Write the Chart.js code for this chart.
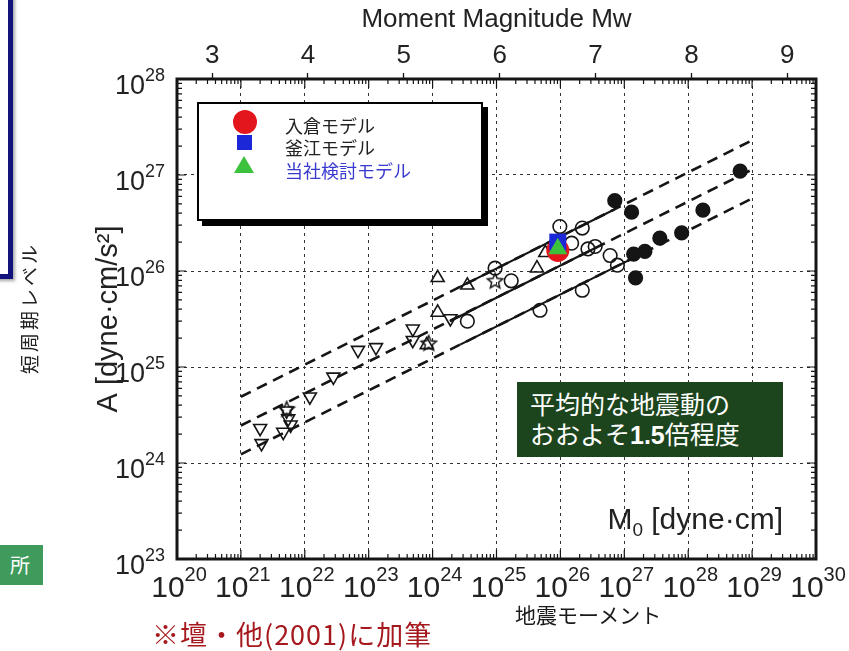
<!DOCTYPE html>
<html>
<head>
<meta charset="utf-8">
<script src="https://cdn.jsdelivr.net/npm/chart.js@4.4.0/dist/chart.umd.min.js"></script>
<style>
  body { margin: 0; background: #fff; }
  #wrap { position: relative; width: 849px; height: 651px; overflow: hidden; font-family: "Liberation Sans", Arial, sans-serif; }
  #c { position: absolute; left: 0; top: 0; }
  .abs { position: absolute; white-space: nowrap; }
  .jp { font-family: "Noto Sans CJK JP", sans-serif; }
</style>
</head>
<body>
<div id="wrap">
  <canvas id="c" width="849" height="651"></canvas>

  <div class="abs" style="left:-205px;top:-10px;width:208px;height:279px;border:5px solid #13137c;background:#fff;box-shadow:2px 2px 3px rgba(0,0,0,.35);"></div>
  <div class="abs jp" style="left:28px;top:308px;transform:translate(-50%,-50%) rotate(-90deg);font-size:19px;letter-spacing:3px;color:#222;line-height:1;">短周期レベル</div>
  <div class="abs jp" style="left:0;top:545px;width:43px;height:40px;background:#3e9b5c;color:#fff;font-size:20px;line-height:40px;text-indent:10px;">所</div>

  <div class="abs" id="legend" style="left:197px;top:102px;width:282px;height:115px;border:2px solid #000;box-shadow:5px 5px 0 #000;background:#fff;">
    <div class="abs" style="left:34px;top:6px;width:24px;height:24px;border-radius:50%;background:#e3161b;"></div>
    <div class="abs" style="left:38px;top:31px;width:15px;height:15px;background:#1c27d8;"></div>
    <div class="abs" style="left:35px;top:52px;width:0;height:0;border-left:10px solid transparent;border-right:10px solid transparent;border-bottom:17px solid #3cc13c;"></div>
    <div class="abs jp" style="left:86px;top:10px;font-size:18px;line-height:22px;color:#222;">入倉モデル</div>
    <div class="abs jp" style="left:86px;top:32px;font-size:18px;line-height:22px;color:#222;">釜江モデル</div>
    <div class="abs jp" style="left:86px;top:55px;font-size:18px;line-height:22px;color:#3a3ad0;">当社検討モデル</div>
  </div>

  <div class="abs jp" style="left:517px;top:382px;width:253px;height:69px;padding:6px 0 0 13px;background:#1d451d;color:#fff;font-size:25px;line-height:30px;">平均的な地震動の<br>おおよそ<b style="font-family:'Liberation Sans',Arial,sans-serif;">1.5</b>倍程度</div>
  <div class="abs" style="right:66px;top:501px;font-size:30px;line-height:36px;color:#222;">M<sub style="font-size:19px;">0</sub> [dyne·cm]</div>

  <div class="abs jp" style="left:515px;top:601px;font-size:21px;line-height:26px;color:#1a1a1a;">地震モーメント</div>
  <div class="abs jp" style="left:152px;top:618px;font-size:27px;line-height:32px;letter-spacing:1px;color:#a5181d;">※壇・他(2001)に加筆</div>
</div>

<script>
// axis decades and Mw ticks
const xDecades = [1e20, 1e21, 1e22, 1e23, 1e24, 1e25, 1e26, 1e27, 1e28, 1e29, 1e30];
const yDecades = [1e23, 1e24, 1e25, 1e26, 1e27, 1e28];
const mwTicks = [3, 4, 5, 6, 7, 8, 9];

// M0 [dyne-cm] vs A [dyne-cm/s^2]
const downTriM0 = [2.0e21, 2.1e21, 4.6e21, 5.2e21, 5.5e21, 6.0e21, 1.2e22, 2.8e22, 6.8e22, 1.3e23, 4.9e23, 4.9e23, 1.9e24];
const downTriA  = [2.3e24, 1.6e24, 2.1e24, 3.5e24, 2.9e24, 2.5e24, 4.9e24, 7.9e24, 1.5e25, 1.6e25, 2.5e25, 1.9e25, 3.2e25];
const upTriM0 = [8.1e23, 1.2e24, 1.2e24, 3.5e24, 4.3e25, 5.8e25];
const upTriA  = [1.7e25, 3.7e25, 8.5e25, 7.1e25, 1.07e26, 1.55e26];
const starM0 = [8.7e23, 9.5e24, 5.2e21];
const starA  = [1.75e25, 7.8e25, 3.6e24];
const openCircM0 = [3.5e24, 9.5e24, 1.7e25, 4.8e25, 9.8e25, 2.2e26, 1.5e26, 2.7e26, 3.5e26, 6.0e26, 7.8e26, 2.2e26];
const openCircA  = [3.0e25, 1.07e26, 7.9e25, 3.9e25, 2.9e26, 2.8e26, 1.95e26, 1.7e26, 1.8e26, 1.45e26, 1.15e26, 6.3e25];
const fullCircM0 = [7.1e26, 1.3e27, 1.4e27, 2.1e27, 3.6e27, 7.9e27, 1.7e28, 1.5e27, 6.5e28];
const fullCircA  = [5.4e26, 4.1e26, 1.5e26, 1.6e26, 2.2e26, 2.5e26, 4.3e26, 8.5e25, 1.1e27];

// the three models, all at the same M0
const modelM0 = 9.1e25;
const irikuraA = 1.64e26;
const kamaeA = 2.0e26;
const ownA = 1.71e26;

// regression line and factor-2 band (dashed full length, solid over the data range)
const lineM0 = [1e21, 1e29];
const upperA = [4.9e24, 2.3e27];
const meanA  = [2.46e24, 1.14e27];
const lowerA = [1.23e24, 5.7e26];
const upperSolidM0 = [2.4e24, 7.1e26], upperSolidA = [6.6e25, 4.4e26];
const meanSolidM0  = [1.86e24, 3.7e26], meanSolidA  = [3.0e25, 1.77e26];
const lowerSolidM0 = [2.7e24, 1.8e27], lowerSolidA = [1.71e25, 1.49e26];

const FONT = '"Liberation Sans", Arial, sans-serif';
const INK = '#151515';

const pts = (xs, ys) => xs.map((x, i) => ({ x, y: ys[i] }));

function starImage(r) {
  const c = document.createElement('canvas');
  const s = Math.ceil(r * 2 + 4);
  c.width = c.height = s;
  const g = c.getContext('2d');
  g.beginPath();
  for (let i = 0; i < 10; i++) {
    const rr = i % 2 ? r * 0.45 : r;
    const ang = -Math.PI / 2 + i * Math.PI / 5;
    const px = s / 2 + rr * Math.cos(ang), py = s / 2 + rr * Math.sin(ang);
    if (i) g.lineTo(px, py); else g.moveTo(px, py);
  }
  g.closePath();
  g.lineWidth = 1.5;
  g.strokeStyle = INK;
  g.stroke();
  return c;
}

function marker(data, style, extra) {
  return Object.assign({
    data, showLine: false, pointStyle: style, pointRadius: 6.8,
    pointBorderColor: INK, pointBackgroundColor: 'rgba(255,255,255,0)', pointBorderWidth: 1.6, order: 5
  }, extra);
}

function line(xs, ys, dashed) {
  return {
    data: pts(xs, ys), showLine: true, pointRadius: 0, borderColor: INK,
    borderWidth: dashed ? 2.6 : 2.1, borderDash: dashed ? [11, 7] : [], order: 10
  };
}

function drawPower(ctx, exp, x, yBase, yExp, baseSize, expSize, align) {
  ctx.font = baseSize + 'px ' + FONT;
  const wb = ctx.measureText('10').width;
  ctx.font = expSize + 'px ' + FONT;
  const we = ctx.measureText(String(exp)).width;
  const x0 = align === 'center' ? x - (wb + we) / 2 + 2 : x - wb - we;
  ctx.font = baseSize + 'px ' + FONT;
  ctx.fillText('10', x0, yBase);
  ctx.font = expSize + 'px ' + FONT;
  ctx.fillText(String(exp), x0 + wb, yExp);
}

const framePlugin = {
  id: 'frame',
  beforeDatasetsDraw(chart) {
    const { ctx, chartArea: a, scales: { x, y } } = chart;
    ctx.save();
    ctx.strokeStyle = INK;
    ctx.lineWidth = 1.2;
    ctx.beginPath();
    for (let d = 20; d < 30; d++) {
      for (let k = 1; k <= 9; k++) {
        const px = x.getPixelForValue(k * Math.pow(10, d));
        const len = k === 1 ? 9 : 5;
        ctx.moveTo(px, a.bottom); ctx.lineTo(px, a.bottom - len);
        ctx.moveTo(px, a.top); ctx.lineTo(px, a.top + len);
      }
    }
    for (let d = 23; d < 28; d++) {
      for (let k = 1; k <= 9; k++) {
        const py = y.getPixelForValue(k * Math.pow(10, d));
        const len = k === 1 ? 9 : 5;
        ctx.moveTo(a.left, py); ctx.lineTo(a.left + len, py);
        ctx.moveTo(a.right, py); ctx.lineTo(a.right - len, py);
      }
    }
    ctx.stroke();
    ctx.lineWidth = 3;
    ctx.strokeRect(a.left, a.top, a.right - a.left, a.bottom - a.top);
    ctx.restore();
  },
  afterDraw(chart) {
    const { ctx, chartArea: a, scales: { x, y } } = chart;
    ctx.save();
    ctx.fillStyle = '#222';
    ctx.textBaseline = 'alphabetic';
    ctx.textAlign = 'left';
    xDecades.forEach(v => {
      const px = x.getPixelForValue(v);
      drawPower(ctx, Math.round(Math.log10(v)), px, a.bottom + 38, a.bottom + 22, 30, 20, 'center');
    });
    yDecades.forEach(v => {
      const py = y.getPixelForValue(v);
      drawPower(ctx, Math.round(Math.log10(v)), a.left - 12, py + 15, py + 2, 27, 18, 'right');
    });
    ctx.restore();
  }
};

new Chart(document.getElementById('c'), {
  type: 'scatter',
  data: {
    datasets: [
      marker([{ x: modelM0, y: ownA }], 'triangle', { pointRadius: 11, pointBackgroundColor: '#3cc13c', pointBorderWidth: 0, order: 0 }),
      marker([{ x: modelM0, y: kamaeA }], 'rect', { pointRadius: 12, pointBackgroundColor: '#1c27d8', pointBorderWidth: 0, order: 1 }),
      marker([{ x: modelM0, y: irikuraA }], 'circle', { pointRadius: 11.5, pointBackgroundColor: '#e3161b', pointBorderWidth: 0, order: 2 }),
      marker(pts(openCircM0, openCircA), 'circle'),
      marker(pts(fullCircM0, fullCircA), 'circle', { pointBackgroundColor: INK }),
      marker(pts(upTriM0, upTriA), 'triangle', { pointRadius: 7.5 }),
      marker(pts(downTriM0, downTriA), 'triangle', { pointRadius: 7.5, pointRotation: 180 }),
      marker(pts(starM0, starA), starImage(8)),
      line(lineM0, upperA, true),
      line(lineM0, meanA, true),
      line(lineM0, lowerA, true),
      line(upperSolidM0, upperSolidA, false),
      line(meanSolidM0, meanSolidA, false),
      line(lowerSolidM0, lowerSolidA, false)
    ]
  },
  options: {
    responsive: false,
    animation: false,
    events: [],
    layout: { padding: { left: 0, right: 33, top: 0, bottom: 0 } },
    plugins: { legend: { display: false }, tooltip: { enabled: false } },
    scales: {
      x: {
        type: 'logarithmic', min: 1e20, max: 1e30,
        afterBuildTicks: s => { s.ticks = xDecades.map(v => ({ value: v })); },
        afterFit: s => { s.height = 92; },
        ticks: { display: false },
        grid: { color: '#333', lineWidth: 1, drawTicks: false },
        border: { display: false, dash: [3, 4] }
      },
      x2: {
        type: 'linear', position: 'top',
        min: 20 * 2 / 3 - 10.7, max: 30 * 2 / 3 - 10.7,
        afterBuildTicks: s => { s.ticks = mwTicks.map(v => ({ value: v })); },
        afterFit: s => { s.height = 79; },
        ticks: { color: '#222', padding: 2, font: { family: FONT, size: 26 } },
        grid: { drawOnChartArea: false, drawTicks: true, tickLength: 6, tickColor: INK, tickWidth: 1.3 },
        border: { display: false },
        title: { display: true, text: 'Moment Magnitude Mw', color: '#222', font: { family: FONT, size: 26 }, padding: { top: 4, bottom: 0 } }
      },
      y: {
        type: 'logarithmic', min: 1e23, max: 1e28,
        afterBuildTicks: s => { s.ticks = yDecades.map(v => ({ value: v })); },
        afterFit: s => { s.width = 177; },
        ticks: { display: false },
        grid: { color: '#333', lineWidth: 1, drawTicks: false },
        border: { display: false, dash: [3, 4] },
        title: { display: true, text: 'A [dyne·cm/s²]', color: '#222', font: { family: FONT, size: 29 }, padding: { top: 92, bottom: 0 } }
      }
    }
  },
  plugins: [framePlugin]
});
</script>
</body>
</html>
